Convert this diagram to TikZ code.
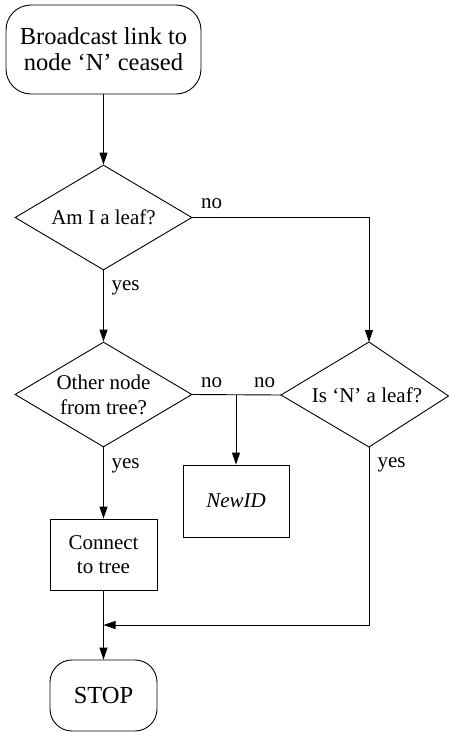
\documentclass[tikz,border=0pt]{standalone}
\usepackage{fontspec}
\setmainfont{Liberation Serif}
\usetikzlibrary{arrows.meta,shapes.geometric}
\begin{document}
\begin{tikzpicture}[x=1pt,y=-1pt,
  line width=0.9pt,
  txt/.style={font=\fontsize{21}{25}\selectfont, align=center, inner sep=0pt},
  lbl/.style={font=\fontsize{21}{25}\selectfont, inner sep=0pt, anchor=base},
  term/.style={draw, rectangle, rounded corners=#1, inner sep=0pt, align=center, font=\fontsize{24.5}{26}\selectfont},
  box/.style={draw, rectangle, inner sep=0pt, align=center, font=\fontsize{21}{24}\selectfont},
  dia/.style={draw, diamond, inner sep=0pt, minimum width=177pt, minimum height=105pt},
  arr/.style={-{Triangle[length=12pt,width=8pt]}},
]
\useasboundingbox (0,0) rectangle (449,732);

% start
\node[term=25pt, minimum width=195pt, minimum height=89pt] (start) at (103.5,49.5) {Broadcast link to\\node ‘N’ ceased};

% diamond 1
\node[dia] (d1) at (103.5,217.5) {};
\node[txt] (d1t) at (d1.center) {Am I a leaf?};

% diamond 2
\node[dia] (d2) at (103.5,394.5) {};
\node[txt] (d2t) at (d2.center) {Other node\\from tree?};

% diamond 3 (cut by the right margin)
\coordinate (d3l) at (281,395);
\coordinate (d3n) at (369,342);
\coordinate (d3r) at (448.5,396);
\coordinate (d3s) at (369,447);
\draw (d3l) -- (d3n) -- (d3r) -- (d3s) -- cycle;
\node[txt] (d3t) at (367,395) {Is ‘N’ a leaf?};

% NewID
\node[box, minimum width=106pt, minimum height=72pt] (newid) at (236,501) {\itshape NewID};

% connect
\node[box, minimum width=107pt, minimum height=71pt] (conn) at (103.5,554.5) {Connect\\to tree};

% stop
\node[term=22pt, minimum width=107pt, minimum height=71pt] (stop) at (103.5,695.5) {STOP};

% connectors
\draw[arr] (start.south) -- (d1.north);
\draw[arr] (d1.east) -| (d3n);
\draw[arr] (d1.south) -- (d2.north);
\draw (d2.east) -- (d3l);
\coordinate (j1) at (236,394.5);
\draw[arr] (j1) -- (newid.north);
\draw[arr] (d2.south) -- (conn.north);
\coordinate (j2) at (103.5,625);
\draw[arr] (d3s) |- (j2);
\draw[arr] (conn.south) -- (stop.north);

% labels
\node[lbl] (l1) at (211.5,208) {no};
\node[lbl] (l2) at (125.5,290) {yes};
\node[lbl] (l3) at (211.5,387) {no};
\node[lbl] (l4) at (264.5,387) {no};
\node[lbl] (l5) at (125.5,468) {yes};
\node[lbl] (l6) at (391.5,467) {yes};
\end{tikzpicture}
\end{document}
